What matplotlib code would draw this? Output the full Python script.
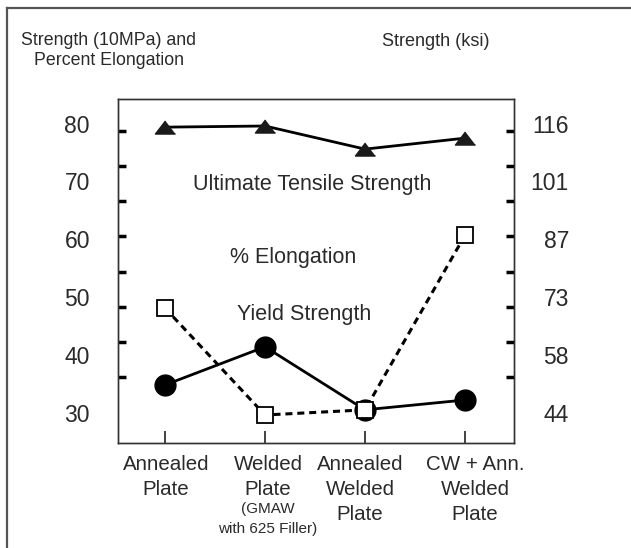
import numpy as np
import matplotlib
matplotlib.use("Agg")
import matplotlib.pyplot as plt
from matplotlib.transforms import ScaledTranslation
from matplotlib.lines import Line2D

# ---------------- data ----------------
categories = ["Annealed\nPlate", "Welded\nPlate", "Annealed\nWelded\nPlate",
              "CW + Ann.\nWelded\nPlate"]
category_note = "(GMAW\nwith 625 Filler)"
uts = [79.4, 79.6, 75.6, 77.5]                 # Ultimate Tensile Strength (10 MPa)
elongation = [48.1, 29.6, 30.5, 60.7]          # % Elongation
yield_strength = [34.8, 41.4, 30.5, 32.2]      # Yield Strength (10 MPa)
left_ticks = [30, 40, 50, 60, 70, 80]
left_labels = ["30", "40", "50", "60", "70", "80"]
right_labels = ["44", "58", "73", "87", "101", "116"]
minor_ticks = [30.0, 36.1, 42.2, 48.3, 54.4, 60.5, 66.6, 72.7, 78.8]

# ---------------- style ----------------
plt.rcParams['font.family'] = ['Liberation Sans', 'DejaVu Sans']
TXT = '#2a2a2a'
W, H = 631, 548
fig = plt.figure(figsize=(W / 100, H / 100), dpi=100)


def fx(px):
    return px / W


def fy(py):
    return 1 - py / H


ax = fig.add_axes([fx(118), fy(443), (514 - 118) / W, (443 - 99) / H])
x = np.arange(len(categories))

tri = [(0, 0.65), (-1, -0.65), (1, -0.65)]
ax.plot(x, yield_strength, '-', color='k', lw=2.0, marker='o', ms=15,
        mfc='k', mec='k', zorder=3, solid_capstyle='butt')
ax.plot(x, elongation, color='k', lw=2.2, linestyle=(0, (2.3, 1.6)),
        marker='s', ms=11, mfc='white', mec='k', mew=1.3, zorder=4)
ax.plot(x, uts, '-', color='k', lw=2.0, marker=tri, ms=14.5,
        mfc='#1a1a1a', mec='#1a1a1a', zorder=3)

ax.set_xlim(-0.47, 3.49)
ax.set_ylim(24.76, 84.27)
for sp in ax.spines.values():
    sp.set_color('#333333')
    sp.set_linewidth(1.0)

ax.set_xticks(x, categories)
ax.tick_params(axis='x', direction='in', length=8.6, width=1.3, color='#333333',
               pad=9, labelsize=14.8, labelcolor=TXT)
for lbl in ax.get_xticklabels():
    lbl.set_linespacing(1.38)

ax.set_yticks(left_ticks, left_labels)
ax.set_yticks(minor_ticks, minor=True)
ax.tick_params(axis='y', which='major', length=0, pad=20.2, labelsize=16.5,
               labelcolor=TXT)
ax.tick_params(axis='y', which='minor', direction='in', length=5.5, width=2.5,
               color='k')

ax2 = ax.twinx()
ax2.set_ylim(ax.get_ylim())
ax2.set_yticks(left_ticks, right_labels)
ax2.set_yticks(minor_ticks, minor=True)
ax2.tick_params(axis='y', which='major', length=0, pad=39.6, labelsize=16.5,
                labelcolor=TXT)
ax2.tick_params(axis='y', which='minor', direction='in', length=5.5, width=2.5,
                color='k')
for lbl in ax2.get_yticklabels():
    lbl.set_horizontalalignment('right')
for sp in ax2.spines.values():
    sp.set_color('#333333')
    sp.set_linewidth(1.0)

# slight horizontal offsets of category labels (pixels)
offsets = [1, 3, -5, 10]
for lbl, dx in zip(ax.get_xticklabels(), offsets):
    lbl.set_transform(lbl.get_transform() +
                      ScaledTranslation(dx / 100, 0, fig.dpi_scale_trans))

# note under second category
note1, note2 = category_note.split("\n")
fig.text(fx(268), fy(513.3), note1, ha='center', va='baseline', fontsize=11, color=TXT)
fig.text(fx(268), fy(533.3), note2, ha='center', va='baseline', fontsize=11, color=TXT)

# series labels inside the plot
fig.text(fx(312), fy(190), "Ultimate Tensile Strength", ha='center', va='baseline',
         fontsize=15.5, color=TXT)
fig.text(fx(293), fy(262.5), "% Elongation", ha='center', va='baseline',
         fontsize=15.5, color=TXT)
fig.text(fx(304), fy(320), "Yield Strength", ha='center', va='baseline',
         fontsize=15.5, color=TXT)

# axis titles
fig.text(fx(108.5), fy(45), "Strength (10MPa) and", ha='center', va='baseline',
         fontsize=12.8, color=TXT)
fig.text(fx(108.5), fy(65), "Percent Elongation", ha='center', va='baseline',
         fontsize=12.8, color=TXT)
fig.text(fx(436), fy(46.5), "Strength (ksi)", ha='center', va='baseline',
         fontsize=13, color=TXT)

# outer frame (top and left edges)
fig.add_artist(Line2D([fx(7), 1], [fy(8), fy(8)], transform=fig.transFigure,
                      color='#555555', lw=1.6))
fig.add_artist(Line2D([fx(7), fx(7)], [fy(8), 0], transform=fig.transFigure,
                      color='#555555', lw=1.6))

fig.savefig("out.png", dpi=100)
